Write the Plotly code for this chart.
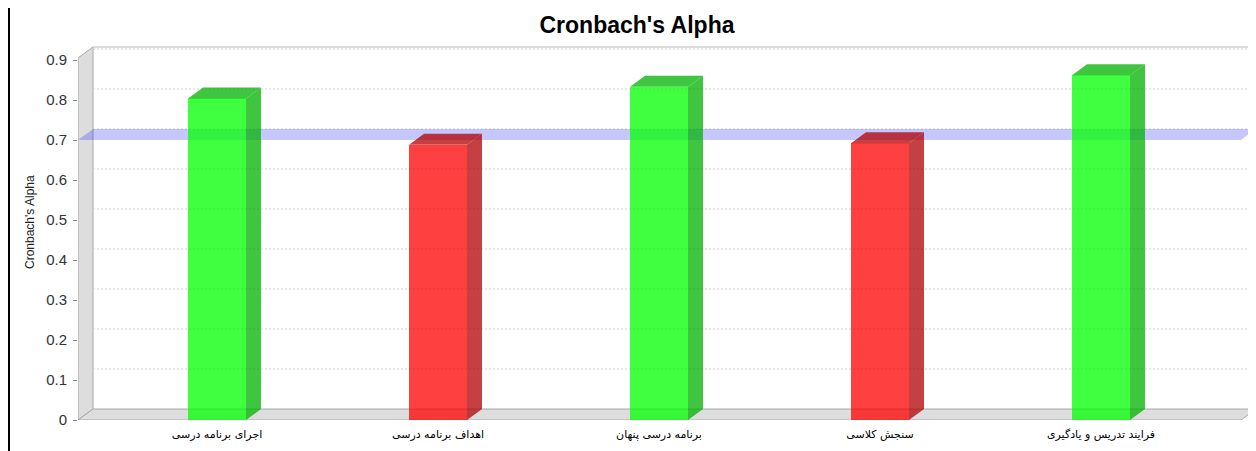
import plotly.graph_objects as go

# ---------------- data ----------------
categories = [
    "اجرای برنامه درسی",
    "اهداف برنامه درسی",
    "برنامه درسی پنهان",
    "سنجش کلاسی",
    "فرایند تدریس و یادگیری",
]
alpha_values = [0.804, 0.688, 0.833, 0.692, 0.862]
threshold = 0.7
y_ticks = [0, 0.1, 0.2, 0.3, 0.4, 0.5, 0.6, 0.7, 0.8, 0.9]
y_tick_labels = ["0", "0.1", "0.2", "0.3", "0.4", "0.5", "0.6", "0.7", "0.8", "0.9"]

# ---------------- geometry / style ----------------
# the page body has an 8px default margin, so the figure starts at page (8, 8)
OFF = 8
W, H = 1256 - OFF, 451 - OFF
ML, MR, MT, MB = 78 - OFF, 0, 45 - OFF, 31
PX_PER_CAT = 221.0
PX_PER_UNIT = 400.0
FIRST_CAT_PX = 217.0 - OFF
FRONT_RIGHT_PX = 1241.0 - OFF
FRONT_TOP = 0.905
DX = 15.0 / PX_PER_CAT          # 3D depth offset in x units
DY = 11.0 / PX_PER_UNIT         # 3D depth offset in y units
BW = 58.0 / PX_PER_CAT          # bar front width

PW = W - ML - MR
PH = H - MT - MB
xa = -(FIRST_CAT_PX - ML) / PX_PER_CAT
xb = xa + PW / PX_PER_CAT
xr = xa + (FRONT_RIGHT_PX - ML) / PX_PER_CAT
yb = PH / PX_PER_UNIT

WALL = "#DDDDDD"
EDGE = "#A8A8A8"

def path(pts):
    return "M " + " L ".join(f"{x},{y}" for x, y in pts) + " Z"

shapes = []
# side wall
shapes.append(dict(type="path", xref="x", yref="y", layer="below",
                   path=path([(xa, 0), (xa, FRONT_TOP), (xa + DX, FRONT_TOP + DY), (xa + DX, DY)]),
                   fillcolor=WALL, line=dict(color=EDGE, width=1)))
# floor
shapes.append(dict(type="path", xref="x", yref="y", layer="below",
                   path=path([(xa, 0), (xr, 0), (xr + DX, DY), (xa + DX, DY)]),
                   fillcolor=WALL, line=dict(color=EDGE, width=1)))
# back wall top edge
shapes.append(dict(type="line", xref="x", yref="y", layer="below",
                   x0=xa + DX, x1=xb, y0=FRONT_TOP + DY, y1=FRONT_TOP + DY,
                   line=dict(color="#B8B8B8", width=1)))
# gridlines on the back wall
for t in y_ticks[1:]:
    shapes.append(dict(type="line", xref="x", yref="y", layer="below",
                       x0=xa + DX, x1=xr + DX, y0=t + DY, y1=t + DY,
                       line=dict(color="#CFCFCF", width=1, dash="2px,2px")))
# threshold marker (3D band)
shapes.append(dict(type="path", xref="x", yref="y", layer="below",
                   path=path([(xa, threshold), (xa + DX, threshold + DY),
                              (xr + DX, threshold + DY), (xr, threshold)]),
                   fillcolor="rgba(0,0,255,0.22)", line=dict(width=0)))
# left page border line
shapes.append(dict(type="line", xref="paper", yref="paper",
                   x0=(1 - ML) / PW, x1=(1 - ML) / PW,
                   y0=-MB / PH, y1=(H - MB) / PH,
                   line=dict(color="black", width=2)))

fig = go.Figure()

idx = list(range(len(categories)))
front_cols, dark_cols = [], []
for v in alpha_values:
    if v >= threshold:
        front_cols.append("rgba(0,255,0,0.75)")
        dark_cols.append("rgba(0,178,0,0.75)")
    else:
        front_cols.append("rgba(255,0,0,0.75)")
        dark_cols.append("rgba(178,0,0,0.75)")

fig.add_trace(go.Bar(x=idx, y=alpha_values, width=BW,
                     marker=dict(color=front_cols, line=dict(width=0)),
                     hoverinfo="skip", showlegend=False))

for i, v in enumerate(alpha_values):
    xl, xq = i - BW / 2, i + BW / 2
    fig.add_trace(go.Scatter(
        x=[xq, xq + DX, xq + DX, xq, xq], y=[0, DY, v + DY, v, 0],
        mode="lines", fill="toself", fillcolor=dark_cols[i],
        line=dict(width=0, color=dark_cols[i]), hoverinfo="skip", showlegend=False))
    fig.add_trace(go.Scatter(
        x=[xl, xl + DX, xq + DX, xq, xl], y=[v, v + DY, v + DY, v, v],
        mode="lines", fill="toself", fillcolor=dark_cols[i],
        line=dict(width=0, color=dark_cols[i]), hoverinfo="skip", showlegend=False))

fig.update_layout(
    width=W, height=H,
    margin=dict(l=ML, r=MR, t=MT, b=MB, pad=0),
    paper_bgcolor="white", plot_bgcolor="white",
    title=dict(text="<b>Cronbach's Alpha</b>", x=(637 - OFF) / W, xanchor="center", xref="container",
               y=1 - (25 - OFF) / H, yanchor="middle", yref="container",
               font=dict(family="Liberation Sans", size=23, color="black")),
    shapes=shapes,
    showlegend=False,
    bargap=0,
    annotations=[dict(text="Cronbach's Alpha", textangle=-90, showarrow=False,
                      xref="paper", yref="paper",
                      x=(30 - OFF - ML) / PW, y=(420 - 222) / PH,
                      xanchor="center", yanchor="middle",
                      font=dict(family="Liberation Sans", size=12, color="#222"))],
)
fig.update_xaxes(range=[xa, xb], tickmode="array", tickvals=idx, ticktext=categories,
                 showgrid=False, zeroline=False, showline=False, ticks="",
                 ticklabelstandoff=6,
                 tickfont=dict(family="DejaVu Sans", size=11, color="#000"), fixedrange=True)
fig.update_yaxes(range=[0, yb], tickmode="array", tickvals=y_ticks, ticktext=y_tick_labels,
                 showgrid=False, zeroline=False, showline=False, ticks="outside", ticklen=4,
                 tickcolor="#888", ticklabelstandoff=3,
                 tickfont=dict(family="Liberation Sans", size=15, color="#333"), fixedrange=True)

fig.write_html("out.html")
